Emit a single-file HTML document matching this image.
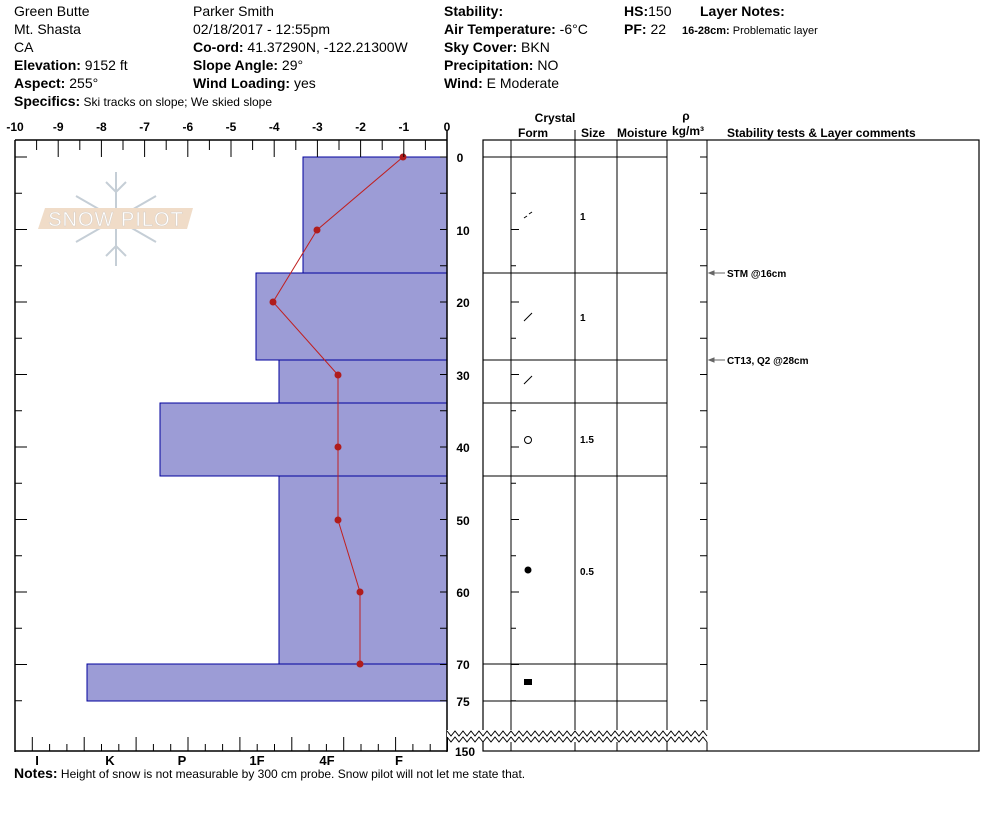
<!DOCTYPE html>
<html><head><meta charset="utf-8"><style>
body{margin:0;background:#fff}
svg{display:block;font-family:"Liberation Sans",Arial,sans-serif}
.h{font-size:14px}
</style></head><body>
<svg id="s" width="994" height="840" viewBox="0 0 994 840" xmlns="http://www.w3.org/2000/svg">
<g class="h" fill="#000">
<text x="14" y="16">Green Butte</text>
<text x="14" y="34">Mt. Shasta</text>
<text x="14" y="52">CA</text>
<text x="14" y="70"><tspan font-weight="bold">Elevation:</tspan> 9152 ft</text>
<text x="14" y="88"><tspan font-weight="bold">Aspect:</tspan> 255°</text>
<text x="193" y="16">Parker Smith</text>
<text x="193" y="34">02/18/2017 - 12:55pm</text>
<text x="193" y="52"><tspan font-weight="bold">Co-ord:</tspan> 41.37290N, -122.21300W</text>
<text x="193" y="70"><tspan font-weight="bold">Slope Angle:</tspan> 29°</text>
<text x="193" y="88"><tspan font-weight="bold">Wind Loading:</tspan> yes</text>
<text x="444" y="16" font-weight="bold">Stability:</text>
<text x="444" y="34"><tspan font-weight="bold">Air Temperature:</tspan> -6°C</text>
<text x="444" y="52"><tspan font-weight="bold">Sky Cover:</tspan> BKN</text>
<text x="444" y="70"><tspan font-weight="bold">Precipitation:</tspan> NO</text>
<text x="444" y="88"><tspan font-weight="bold">Wind:</tspan>  E Moderate</text>
<text x="624" y="16"><tspan font-weight="bold">HS:</tspan>150</text>
<text x="624" y="34"><tspan font-weight="bold">PF:</tspan> 22</text>
<text x="700" y="16" font-weight="bold">Layer Notes:</text>
<text x="682" y="34" font-size="11"><tspan font-weight="bold">16-28cm:</tspan> Problematic layer</text>
<text x="14" y="106"><tspan font-weight="bold">Specifics:</tspan><tspan font-size="12"> Ski tracks on slope; We skied slope</tspan></text>
<text x="14" y="778"><tspan font-weight="bold">Notes:</tspan><tspan font-size="12"> Height of snow is not measurable by 300 cm probe.  Snow pilot will not let me state that.</tspan></text>
</g>
<g stroke="#c5ced6" stroke-width="2" fill="none">
<line x1="116" y1="172" x2="116" y2="266"/>
<line x1="76" y1="196" x2="156" y2="242"/>
<line x1="76" y1="242" x2="156" y2="196"/>
<polyline points="106,182 116,192 126,182"/><polyline points="106,256 116,246 126,256"/>
</g>
<polygon points="45,208 193,208 187,229 38,229" fill="#f0dcc8"/>
<text x="116" y="226" text-anchor="middle" font-size="20" fill="#fff" stroke="#d8d0c8" stroke-width="0.5" letter-spacing="1">SNOW PILOT</text>
<g fill="#9c9cd6" stroke="#00009c" stroke-width="1">
<rect x="303" y="157" width="144" height="116"/>
<rect x="256" y="273" width="191" height="87"/>
<rect x="279" y="360" width="168" height="43"/>
<rect x="160" y="403" width="287" height="73"/>
<rect x="279" y="476" width="168" height="188"/>
<rect x="87" y="664" width="360" height="37"/>
</g>
<polyline points="403,157 317,230 273,302 338,375 338,447 338,520 360,592 360,664" fill="none" stroke="#c02020" stroke-width="1"/>
<g fill="#b01c1c">
<circle cx="403" cy="157" r="3.5"/><circle cx="317" cy="230" r="3.5"/><circle cx="273" cy="302" r="3.5"/><circle cx="338" cy="375" r="3.5"/><circle cx="338" cy="447" r="3.5"/><circle cx="338" cy="520" r="3.5"/><circle cx="360" cy="592" r="3.5"/><circle cx="360" cy="664" r="3.5"/>
</g>
<g stroke="#000" stroke-width="1.5" fill="none">
<line x1="15" y1="140" x2="447" y2="140"/>
<line x1="15" y1="140" x2="15" y2="752"/>
<line x1="15" y1="751" x2="447" y2="751"/>
<line x1="447" y1="130" x2="447" y2="752"/>
<rect x="483" y="140" width="496" height="611" stroke-width="1.2"/>
</g>
<g id="tl" font-size="12" font-weight="bold" text-anchor="middle"></g>
<g font-size="13" font-weight="bold" text-anchor="middle">
<text x="37" y="765">I</text><text x="110" y="765">K</text><text x="182" y="765">P</text><text x="257" y="765">1F</text><text x="327" y="765">4F</text><text x="399" y="765">F</text>
</g>
<g font-size="12" font-weight="bold" text-anchor="middle">
<text x="460" y="162">0</text><text x="463" y="235">10</text><text x="463" y="307">20</text><text x="463" y="380">30</text><text x="463" y="452">40</text><text x="463" y="525">50</text><text x="463" y="597">60</text><text x="463" y="669">70</text><text x="463" y="706">75</text><text x="465" y="756">150</text>
</g>
<g font-size="12" font-weight="bold">
<text x="555" y="122" text-anchor="middle">Crystal</text>
<text x="533" y="137" text-anchor="middle">Form</text>
<text x="593" y="137" text-anchor="middle">Size</text>
<text x="642" y="137" text-anchor="middle">Moisture</text>
<text x="686" y="120" text-anchor="middle">ρ</text>
<text x="688" y="135" text-anchor="middle">kg/m³</text>
<text x="727" y="137">Stability tests &amp; Layer comments</text>
</g>
<g stroke="#000" stroke-width="1">
<line x1="511" y1="140" x2="511" y2="751"/><line x1="575" y1="130" x2="575" y2="751"/><line x1="617" y1="140" x2="617" y2="751"/><line x1="667" y1="140" x2="667" y2="751"/><line x1="707" y1="140" x2="707" y2="751"/>
<line x1="483" y1="157" x2="667" y2="157"/><line x1="483" y1="273" x2="667" y2="273"/><line x1="483" y1="360" x2="667" y2="360"/><line x1="483" y1="403" x2="667" y2="403"/><line x1="483" y1="476" x2="667" y2="476"/><line x1="483" y1="664" x2="667" y2="664"/><line x1="483" y1="701" x2="667" y2="701"/>
<line x1="524" y1="218" x2="527" y2="216"/><line x1="529" y1="214" x2="532" y2="212"/>
<line x1="524" y1="321" x2="532" y2="313"/><line x1="524" y1="384" x2="532" y2="376"/>
<line x1="511" y1="664" x2="518" y2="664"/>
</g>
<circle cx="528" cy="440" r="3.5" fill="none" stroke="#000"/>
<circle cx="528" cy="570" r="3.5" fill="#000"/>
<rect x="524" y="679" width="8" height="6" fill="#000"/>
<g font-size="10" font-weight="bold">
<text x="580" y="220">1</text><text x="580" y="321">1</text><text x="580" y="443">1.5</text><text x="580" y="575">0.5</text>
<text x="727" y="277">STM @16cm</text><text x="727" y="364">CT13, Q2 @28cm</text>
</g>
<g stroke="#666" fill="#666">
<line x1="710" y1="273" x2="725" y2="273"/><polygon points="709,273 714,271 714,275"/>
<line x1="710" y1="360" x2="725" y2="360"/><polygon points="709,360 714,358 714,362"/>
</g>
<g id="zz"></g>
</svg>
<script>
var ns="http://www.w3.org/2000/svg",s=document.getElementById('s');
function L(x1,y1,x2,y2,w){var l=document.createElementNS(ns,'line');l.setAttribute('x1',x1);l.setAttribute('y1',y1);l.setAttribute('x2',x2);l.setAttribute('y2',y2);l.setAttribute('stroke','#000');l.setAttribute('stroke-width',w||1);s.appendChild(l);}
var tl=document.getElementById('tl');
for(var i=0;i<=20;i++){var x=15+i*21.6;L(x,140,x,i%2?150:157);}
for(var i=0;i<=10;i++){var t=document.createElementNS(ns,'text');t.setAttribute('x',15+i*43.2);t.setAttribute('y',131);t.textContent=(i-10)+'';tl.appendChild(t);}
for(var i=0;i<=25;i++){var x=15+i*17.3;L(x,751,x,(i%3==1)?737:744);}
for(var d=0;d<=75;d+=5){var y=157+d*7.25;var big=d%10==0;L(15,y,big?27:22,y);L(447,y,440,y);L(511,y,big?519:516,y);L(707,y,700,y);}
var zz=document.getElementById('zz');
var r=document.createElementNS(ns,'rect');r.setAttribute('x',447);r.setAttribute('y',730);r.setAttribute('width',261);r.setAttribute('height',12);r.setAttribute('fill','#fff');zz.appendChild(r);
var mk=function(dy){var pl=document.createElementNS(ns,'polyline');var q='';for(var x=447,k=0;x<=708;x+=4,k++){q+=x+','+(dy+(k%2?5:0))+' ';}pl.setAttribute('points',q);pl.setAttribute('fill','none');pl.setAttribute('stroke','#000');pl.setAttribute('stroke-width',1);zz.appendChild(pl);};
mk(731);mk(737);
</script>
</body></html>
